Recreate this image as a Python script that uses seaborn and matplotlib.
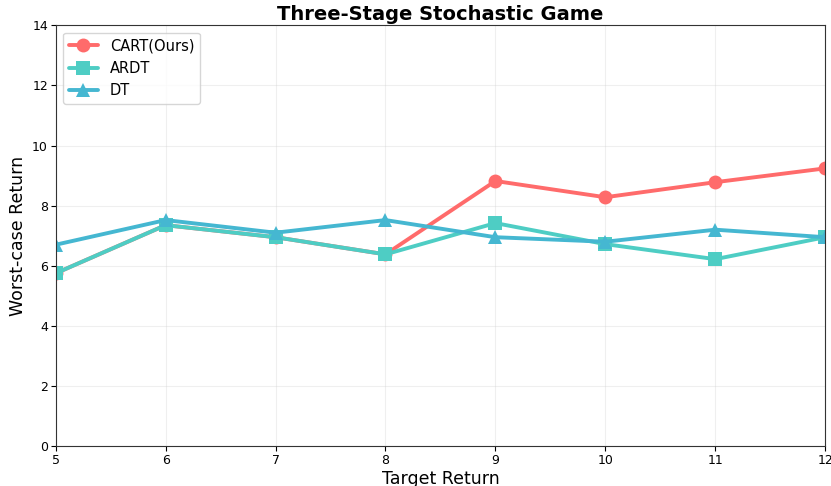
import matplotlib
matplotlib.use("Agg")
import matplotlib.pyplot as plt
import seaborn as sns
import pandas as pd

target_return = [5, 6, 7, 8, 9, 10, 11, 12]
cart = [5.75, 7.35, 6.95, 6.38, 8.82, 8.28, 8.78, 9.24]
ardt = [5.75, 7.35, 6.95, 6.38, 7.42, 6.72, 6.22, 6.95]
dt = [6.70, 7.52, 7.10, 7.52, 6.95, 6.80, 7.20, 6.95]

methods = ["CART(Ours)", "ARDT", "DT"]
colors = ["#FF6B6B", "#4ECDC4", "#45B7D1"]
markers = ["o", "s", "^"]

df = pd.DataFrame({
    "Target Return": target_return * 3,
    "Worst-case Return": cart + ardt + dt,
    "Method": [methods[0]] * 8 + [methods[1]] * 8 + [methods[2]] * 8,
})

sns.set_style("ticks")
plt.rcParams['font.family'] = ['DejaVu Sans']
plt.rcParams['text.color'] = 'black'
plt.rcParams['axes.labelcolor'] = 'black'
plt.rcParams['xtick.color'] = 'black'
plt.rcParams['ytick.color'] = 'black'

fig, ax = plt.subplots(figsize=(8.31, 4.86), dpi=100)
for m, c, mk in zip(methods, colors, markers):
    sub = df[df["Method"] == m]
    sns.lineplot(data=sub, x="Target Return", y="Worst-case Return", ax=ax,
                 color=c, marker=mk, markersize=10, linewidth=2.8,
                 markeredgewidth=0, label=m)

ax.set_xlim(5, 12)
ax.set_ylim(0, 14)
ax.set_yticks(range(0, 15, 2))
ax.set_xticks(target_return)
ax.grid(True, alpha=0.3)
ax.tick_params(labelsize=9, length=3.5, pad=2)
ax.set_xlabel("Target Return", fontsize=12.5, labelpad=2)
ax.set_ylabel("Worst-case Return", fontsize=12.5, labelpad=4)
ax.set_title("Three-Stage Stochastic Game", fontsize=14, fontweight="bold", color="black", pad=4)
for s in ax.spines.values():
    s.set_visible(True)
    s.set_color("#333333")
leg = ax.legend(loc="upper left", fontsize=10.5, frameon=True, handlelength=2.0,
                borderaxespad=0.5)
fig.subplots_adjust(left=0.067, right=0.993, top=0.948, bottom=0.082)
fig.savefig("out.png", dpi=100)
